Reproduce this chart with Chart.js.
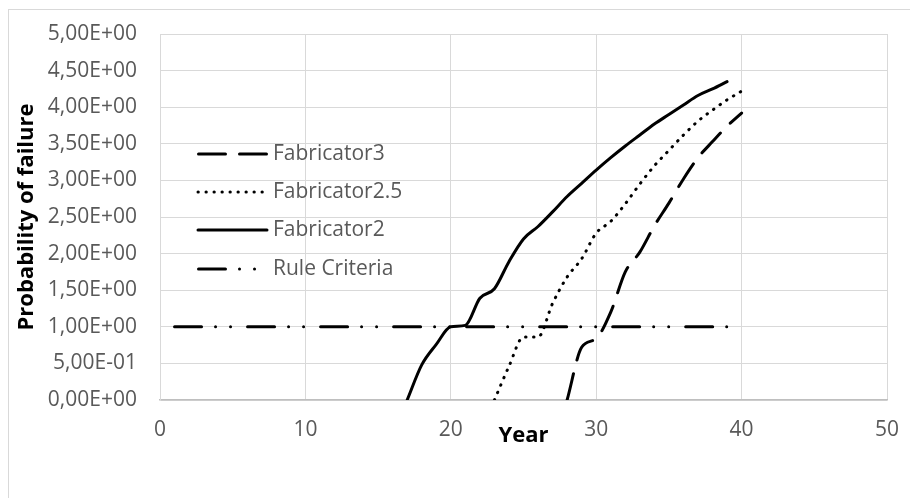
<!DOCTYPE html>
<html>
<head>
<meta charset="utf-8">
<script src="https://cdn.jsdelivr.net/npm/chart.js@4.4.0/dist/chart.umd.min.js"></script>
<style>
  html, body { margin: 0; padding: 0; background: #fff; }
  #chart_container { position: relative; width: 910px; height: 498px; }
</style>
</head>
<body>
<div id="chart_container"><canvas id="chart"></canvas></div>
<script>
// values
const fab3Years = [28, 29, 30, 31, 32, 33, 34, 35, 36, 37, 38, 39, 40];
const fab3Values = [0, 0.72, 0.84, 1.2, 1.75, 2.02, 2.38, 2.69, 3.02, 3.31, 3.53, 3.74, 3.92];

const fab25Years = [23, 24, 25, 26, 27, 28, 29, 30, 31, 32, 33, 34, 35, 36, 37, 38, 39, 40];
const fab25Values = [0, 0.46, 0.86, 0.86, 1.32, 1.68, 1.93, 2.28, 2.44, 2.68, 2.95, 3.2, 3.41, 3.62, 3.81, 3.96, 4.1, 4.22];

const fab2Years = [17, 18, 19, 20, 21, 22, 23, 24, 25, 26, 27, 28, 29, 30, 31, 32, 33, 34, 35, 36, 37, 38, 39];
const fab2Values = [0, 0.48, 0.76, 1.0, 1.02, 1.39, 1.52, 1.89, 2.2, 2.37, 2.57, 2.78, 2.96, 3.14, 3.31, 3.47, 3.62, 3.77, 3.9, 4.03, 4.16, 4.25, 4.35];

const ruleYears = [1, 39];
const ruleValues = [1, 1];

const seriesNames = ['Fabricator3', 'Fabricator2.5', 'Fabricator2', 'Rule Criteria'];

const xTitle = 'Year';
const yTitle = 'Probability of failure';

function toPoints(xs, ys) {
  return xs.map((x, i) => ({ x: x, y: ys[i] }));
}

// 5.00e-1 -> 5,00E-01
function sciLabel(v) {
  const parts = Number(v).toExponential(2).split('e');
  const mant = parts[0].replace('.', ',');
  let exp = parseInt(parts[1], 10);
  const sign = exp < 0 ? '-' : '+';
  exp = Math.abs(exp);
  return mant + 'E' + sign + (exp < 10 ? '0' + exp : exp);
}

const frame = {
  id: 'frame',
  beforeDraw(chart) {
    const ctx = chart.ctx;
    ctx.save();
    ctx.fillStyle = '#fff';
    ctx.fillRect(0, 0, chart.width, chart.height);
    ctx.strokeStyle = '#d9d9d9';
    ctx.lineWidth = 1;
    ctx.strokeRect(8.5, 9.5, 930, 520);
    ctx.restore();
  }
};

// legend drawn inside the plot, line samples like the original
const insideLegend = {
  id: 'insideLegend',
  afterDraw(chart) {
    const ctx = chart.ctx;
    const rows = [154, 192, 230, 269];
    ctx.save();
    chart.data.datasets.forEach((ds, i) => {
      const y = rows[i];
      ctx.beginPath();
      ctx.strokeStyle = '#000';
      ctx.lineWidth = ds.borderWidth;
      ctx.lineCap = ds.borderCapStyle || 'butt';
      ctx.setLineDash(ds.legendDash || ds.borderDash || []);
      ctx.moveTo(ds.legendStart || 198, y);
      ctx.lineTo(267, y);
      ctx.stroke();
      ctx.setLineDash([]);
      ctx.fillStyle = '#595959';
      ctx.font = '21px "Open Sans"';
      ctx.textBaseline = 'middle';
      ctx.fillText(ds.label, 273, y);
    });
    ctx.restore();
  }
};

const ctx = document.getElementById('chart').getContext('2d');
new Chart(ctx, {
  type: 'line',
  data: {
    datasets: [
      {
        label: seriesNames[0],
        data: toPoints(fab3Years, fab3Values),
        borderColor: '#000',
        borderWidth: 3,
        borderDash: [27, 14],
        borderCapStyle: 'round',
        legendStart: 198.5
      },
      {
        label: seriesNames[1],
        data: toPoints(fab25Years, fab25Values),
        borderColor: '#000',
        borderWidth: 3,
        borderDash: [0.5, 7.5],
        borderCapStyle: 'round',
        legendDash: [0.3, 7.7]
      },
      {
        label: seriesNames[2],
        data: toPoints(fab2Years, fab2Values),
        borderColor: '#000',
        borderWidth: 3,
        borderCapStyle: 'round'
      },
      {
        label: seriesNames[3],
        data: toPoints(ruleYears, ruleValues),
        borderColor: '#000',
        borderWidth: 3,
        borderDash: [27, 14, 0.01, 15, 0.01, 17],
        borderCapStyle: 'round',
        tension: 0,
        legendStart: 198.5
      }
    ]
  },
  options: {
    responsive: true,
    maintainAspectRatio: false,
    animation: false,
    elements: {
      point: { radius: 0 },
      line: { tension: 0.4, cubicInterpolationMode: 'monotone', fill: false }
    },
    layout: {
      padding: { left: 0, right: 23, top: 34, bottom: 0 }
    },
    plugins: {
      legend: { display: false },
      tooltip: { enabled: false }
    },
    scales: {
      x: {
        type: 'linear',
        min: 0,
        max: 50,
        ticks: {
          stepSize: 10,
          color: '#595959',
          padding: 17,
          font: { family: 'Open Sans', size: 21 }
        },
        grid: { color: '#d9d9d9', lineWidth: 1, drawTicks: false },
        border: { color: '#bfbfbf', width: 1.5 },
        title: {
          display: true,
          text: xTitle,
          color: '#000',
          font: { family: 'Open Sans', size: 22, weight: 'bold' },
          padding: { top: 0, bottom: 49 }
        },
        afterFit(scale) {
          scale.height = 98;
          scale.paddingLeft = 0;
          scale.paddingRight = 0;
        }
      },
      y: {
        min: 0,
        max: 5,
        ticks: {
          stepSize: 0.5,
          color: '#595959',
          padding: 23,
          font: { family: 'Open Sans', size: 21 },
          callback: v => sciLabel(v)
        },
        grid: { color: '#d9d9d9', lineWidth: 1, drawTicks: false },
        border: { color: '#d9d9d9', width: 1 },
        title: {
          display: true,
          text: yTitle,
          color: '#000',
          font: { family: 'Open Sans', size: 22, weight: 'bold' },
          padding: { top: 14, bottom: 0 }
        },
        afterFit(scale) {
          scale.width = 160;
          scale.paddingTop = 0;
          scale.paddingBottom = 0;
        }
      }
    }
  },
  plugins: [frame, insideLegend]
});
</script>
</body>
</html>
